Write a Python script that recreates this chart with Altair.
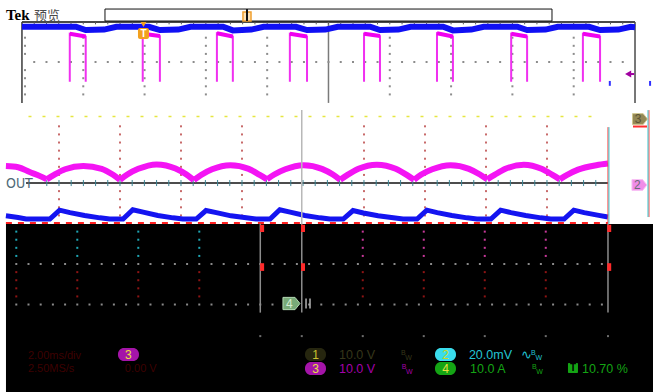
import itertools
import altair as alt
import pandas as pd

W, H = 653, 392

# Screen extent in graticule divisions of the zoom window:
# 61 px per horizontal division, 40.5 px per vertical division,
# OUT reference level at 0.
X_DOMAIN = [0.033, 10.738]
Y_DOMAIN = [-5.160, 4.519]

# The overview (record) window uses its own divisions; these place it on screen.
OV_X0, OV_KX, OV_Y0 = 0.393, 1.005, 2.988

# ---------------- zoom window traces ----------------
# CH3 (magenta): rectified ripple, one arch per half cycle
MAG_ARCH_X = [
    [0.13, 0.33, 0.52, 0.69, 0.80],
    [0.80, 0.92, 1.10, 1.40, 1.70, 1.88, 2.00],
    [2.00, 2.12, 2.30, 2.60, 2.91, 3.09, 3.21],
    [3.21, 3.33, 3.51, 3.81, 4.11, 4.29, 4.41],
    [4.41, 4.53, 4.71, 5.01, 5.31, 5.49, 5.61],
    [5.61, 5.73, 5.91, 6.21, 6.52, 6.70, 6.82],
    [6.82, 6.94, 7.12, 7.42, 7.72, 7.90, 8.02],
    [8.02, 8.14, 8.32, 8.62, 8.91, 9.09, 9.21],
    [9.21, 9.33, 9.51, 9.81, 10.00],
]
MAG_ARCH_Y = [
    [0.42, 0.39, 0.27, 0.17, 0.09],
    [0.09, 0.20, 0.34, 0.42, 0.35, 0.21, 0.08],
    [0.08, 0.21, 0.35, 0.46, 0.36, 0.21, 0.07],
    [0.07, 0.20, 0.34, 0.44, 0.35, 0.20, 0.09],
    [0.09, 0.21, 0.34, 0.44, 0.35, 0.21, 0.08],
    [0.08, 0.20, 0.35, 0.45, 0.35, 0.20, 0.08],
    [0.08, 0.21, 0.34, 0.44, 0.35, 0.21, 0.09],
    [0.09, 0.20, 0.35, 0.45, 0.35, 0.20, 0.09],
    [0.09, 0.20, 0.33, 0.44, 0.48],
]

# CH4 (blue): current ramps
BLUE_X = [0.13, 0.33, 0.46,
          0.85, 1.01, 1.18, 1.42, 1.67, 1.83,
          2.05, 2.21, 2.38, 2.62, 2.87, 3.03,
          3.25, 3.41, 3.58, 3.82, 4.07, 4.23,
          4.46, 4.62, 4.79, 5.03, 5.28, 5.44,
          5.66, 5.82, 5.99, 6.23, 6.48, 6.64,
          6.87, 7.03, 7.20, 7.44, 7.69, 7.85,
          8.08, 8.24, 8.41, 8.65, 8.90, 9.06,
          9.28, 9.44, 9.61, 9.85, 10.00]
BLUE_Y = [-0.81, -0.85, -0.89,
          -0.89, -0.67, -0.73, -0.80, -0.86, -0.89,
          -0.89, -0.66, -0.72, -0.80, -0.86, -0.89,
          -0.89, -0.68, -0.73, -0.81, -0.86, -0.89,
          -0.89, -0.66, -0.72, -0.80, -0.86, -0.89,
          -0.89, -0.68, -0.74, -0.81, -0.86, -0.89,
          -0.89, -0.67, -0.73, -0.80, -0.86, -0.89,
          -0.89, -0.67, -0.73, -0.80, -0.86, -0.89,
          -0.89, -0.67, -0.73, -0.80, -0.84]

# CH1 (yellow): flat level, barely visible
CH1_X = [0.50, 9.90]
CH1_Y = [1.64, 1.64]

# ---------------- overview window traces ----------------
OV_PULSE_RISE = [0.78, 1.97, 3.18, 4.37, 5.58, 6.77, 7.98, 9.15]
OV_PULSE_FALL = [1.04, 2.25, 3.44, 4.65, 5.84, 7.03, 8.24, 9.43]
OV_PULSE_TOP_LEAD = [0.70, 0.70, 0.71, 0.70, 0.70, 0.71, 0.70, 0.70]
OV_PULSE_TOP_TRAIL = [0.63, 0.64, 0.63, 0.63, 0.64, 0.63, 0.63, 0.63]
OV_PULSE_BASE = -0.49

OV_BLUE_X = [0.00, 0.88, 1.04, 1.34, 1.54, 2.07, 2.25, 2.55, 2.75,
             3.28, 3.44, 3.74, 3.94, 4.47, 4.65, 4.95, 5.15,
             5.68, 5.84, 6.14, 6.34, 6.87, 7.03, 7.33, 7.53,
             8.08, 8.24, 8.54, 8.74, 9.25, 9.43, 9.73, 9.93, 10.00]
OV_BLUE_Y = [0.87, 0.87, 0.79, 0.80, 0.87, 0.87, 0.79, 0.80, 0.87,
             0.87, 0.78, 0.80, 0.87, 0.87, 0.79, 0.80, 0.87,
             0.87, 0.79, 0.80, 0.87, 0.87, 0.78, 0.80, 0.87,
             0.87, 0.79, 0.80, 0.87, 0.87, 0.79, 0.80, 0.87, 0.86]

# ---------------- readouts ----------------
READOUT_TEXT = ["10.0 V", "20.0mV", "10.0 V", "10.0 A", "10.70 %", "∿"]
READOUT_X = [5.59, 7.72, 5.59, 7.74, 9.574, 8.57]
READOUT_Y = [-4.235, -4.235, -4.58, -4.58, -4.58, -4.235]
READOUT_COLOR = ["#36361a", "#22c4d4", "#a400aa", "#14a414", "#14a414", "#22c4d4"]

BW_X = [6.607, 8.74, 6.62, 8.754]
BW_Y = [-4.20, -4.20, -4.545, -4.545]
BW_COLOR = ["#36361a", "#22c4d4", "#a400aa", "#14a414"]

BADGE_LABEL = ["3", "1", "3", "2", "4"]
BADGE_X = [1.967, 5.033, 5.033, 7.164, 7.164]
BADGE_X2 = [2.311, 5.377, 5.377, 7.508, 7.508]
BADGE_Y = [-4.074, -4.074, -4.420, -4.074, -4.420]
BADGE_Y2 = [-4.395, -4.395, -4.741, -4.395, -4.741]
BADGE_FILL = ["#a414a8", "#26260f", "#a414a8", "#3adcec", "#14a414"]
BADGE_INK = ["#e8e040", "#c8c030", "#e8e040", "#c8d820", "#e8e040"]

DIM_TEXT = ["2.00ms/div", "2.50MS/s", "0.00 V"]
DIM_X = [0.49, 0.49, 2.08]
DIM_Y = [-4.28, -4.60, -4.60]

# ---------------- scales and helpers ----------------
xs = alt.Scale(domain=X_DOMAIN, nice=False, zero=False)
ys = alt.Scale(domain=Y_DOMAIN, nice=False, zero=False)


def X(f="x"):
    return alt.X(f"{f}:Q", scale=xs, axis=None)


def Y(f="y"):
    return alt.Y(f"{f}:Q", scale=ys, axis=None)


COLOR = alt.Color("c:N", scale=None)


def overview(chart, pairs=(("x", "ox"), ("y", "oy"))):
    calc = {}
    for out, src in pairs:
        if out.startswith("x"):
            calc[out] = f"{OV_X0} + {OV_KX} * datum.{src}"
        else:
            calc[out] = f"{OV_Y0} + datum.{src}"
    return chart.transform_calculate(**calc)


def rule_layer(rows, ov=False):
    df = pd.DataFrame(rows, columns=["x", "x2", "y", "y2", "c", "w"])
    if ov:
        df = df.rename(columns={"x": "ox", "x2": "ox2", "y": "oy", "y2": "oy2"})
    ch = alt.Chart(df).mark_rule(strokeCap="butt")
    if ov:
        ch = overview(ch, (("x", "ox"), ("x2", "ox2"), ("y", "oy"), ("y2", "oy2")))
    return ch.encode(x=X(), x2="x2:Q", y=Y(), y2="y2:Q", color=COLOR,
                     strokeWidth=alt.StrokeWidth("w:Q", scale=None))


def dot_layer(rows, size=4, ov=False):
    cols = ["ox", "oy", "c"] if ov else ["x", "y", "c"]
    ch = alt.Chart(pd.DataFrame(rows, columns=cols)).mark_square(size=size, opacity=1)
    if ov:
        ch = overview(ch)
    return ch.encode(x=X(), y=Y(), color=COLOR)


layers = []

# black lower part of the screen
layers.append(
    alt.Chart(pd.DataFrame({"x": [0.131], "x2": [X_DOMAIN[1]], "y": [-1.01], "y2": [Y_DOMAIN[0]]}))
    .mark_rect(color="#000000")
    .encode(x=X(), x2="x2:Q", y=Y(), y2="y2:Q")
)

# ---- graticule of the zoom window ----
zoom_cols = [1, 2, 3, 4, 6, 7, 8, 9]
zoom_minor = [1.4, 1.2, 1.0, 0.8, 0.6, 0.4, 0.2, -0.2, -0.4, -0.6, -0.8]
grid = [(c, v, "#c86a6a") for c, v in itertools.product(zoom_cols, zoom_minor)]

cols_left = [0.30, 1.30, 2.30, 3.30]
cols_right = [5.98, 6.98, 7.98, 8.98]
for v in [-1.2, -1.4, -1.6, -1.8]:
    grid += [(c, v, "#1fa6b4") for c in cols_left]
    grid += [(c, v, "#c8389a") for c in cols_right]
for v in [-2.2, -2.4, -2.6, -2.8]:
    grid += [(c, v, "#8e1414") for c in cols_left + cols_right]
for v in [-2.0, -3.0]:
    grid += [(0.30 + 0.2 * k, v, "#8a8a8a") for k in range(49)]
grid += [(c, -3.78, "#6e6e6e") for c in [4.30, 4.98] + cols_right + [10.0]]
layers.append(dot_layer(grid, size=4))

# OUT reference line with minor ticks
out_rules = [(0.46, 10.0, 0.0, 0.0, "#111111", 1.5)]
out_rules += [(0.8 + 0.2 * k, 0.8 + 0.2 * k, 0.075, -0.075, "#3c8494", 1) for k in range(46)]
layers.append(rule_layer(out_rules))

# ---- overview window frame and graticule ----
ov_frame = [
    (0, 10, 0.99, 0.99, "#4a4a4a", 2),
    (0, 0, 0.99, -1.01, "#3a3a3a", 1.5),
    (10, 10, 0.99, -1.01, "#4a4a4a", 1.5),
    (5, 5, 0.99, -1.01, "#7a7a7a", 1.5),
]
ov_frame += [(0.2 * k, 0.2 * k, 0.99, 0.93, "#5a5a5a", 1) for k in range(1, 50)]
layers.append(rule_layer(ov_frame, ov=True))

ov_grid = [(c, v, "#8c8c8c") for c, v in itertools.product(
    [0.05, 1, 2, 3, 4, 6, 7, 8, 9], [0.6, 0.4, 0.2, -0.2, -0.4, -0.6, -0.8])]
ov_grid += [(0.2 * k, 0.0, "#8c8c8c") for k in range(1, 50)]
layers.append(dot_layer(ov_grid, size=4, ov=True))

# ---- traces ----
layers.append(
    alt.Chart(pd.DataFrame({"x": CH1_X, "y": CH1_Y}))
    .mark_line(color="#e6e640", strokeWidth=1.5, strokeDash=[3, 11])
    .encode(x=X(), y=Y())
)

mag_rows = []
for i, (ax, ay) in enumerate(zip(MAG_ARCH_X, MAG_ARCH_Y)):
    mag_rows += [{"x": a, "y": b, "arch": i} for a, b in zip(ax, ay)]
layers.append(
    alt.Chart(pd.DataFrame(mag_rows))
    .mark_line(color="#f414f4", strokeWidth=6, interpolate="monotone")
    .encode(x=X(), y=Y(), detail="arch:N")
)

layers.append(
    alt.Chart(pd.DataFrame({"x": [0.13, 10.0], "y": [-0.985, -0.985]}))
    .mark_line(color="#ff2020", strokeWidth=2, strokeDash=[6, 6])
    .encode(x=X(), y=Y())
)

layers.append(
    alt.Chart(pd.DataFrame({"x": BLUE_X, "y": BLUE_Y}))
    .mark_line(color="#1414f0", strokeWidth=5)
    .encode(x=X(), y=Y())
)

# overview: blue and magenta pulses
layers.append(
    overview(alt.Chart(pd.DataFrame({"ox": OV_BLUE_X, "oy": OV_BLUE_Y})).mark_line(
        color="#1010f4", strokeWidth=6))
    .encode(x=X(), y=Y())
)
pulse_rows = []
for i, (r, f, a, b) in enumerate(zip(OV_PULSE_RISE, OV_PULSE_FALL,
                                     OV_PULSE_TOP_LEAD, OV_PULSE_TOP_TRAIL)):
    pts = [(r, OV_PULSE_BASE), (r, a), (f, b), (f, OV_PULSE_BASE)]
    pulse_rows += [{"ox": px, "oy": py, "p": i, "k": k} for k, (px, py) in enumerate(pts)]
pulse_df = pd.DataFrame(pulse_rows)
layers.append(
    overview(alt.Chart(pulse_df).mark_line(color="#f030f0", strokeWidth=2))
    .encode(x=X(), y=Y(), detail="p:N", order="k:Q")
)
top_df = pulse_df[pulse_df["k"].isin([1, 2])]
layers.append(
    overview(alt.Chart(top_df).mark_line(color="#f000f0", strokeWidth=4))
    .encode(x=X(), y=Y(), detail="p:N", order="k:Q")
)

# ---- cursors, edges and small indicators ----
cursor = [
    (4.30, 4.30, -1.0, -3.2, "#8c8c8c", 1.5),
    (4.98, 4.98, 1.80, -1.0, "#b8b8b8", 1.5),
    (4.98, 4.98, -1.0, -3.2, "#8c8c8c", 1.5),
    (10.0, 10.0, -1.0, -3.2, "#8c8c8c", 1.5),
    (10.0, 10.0, 1.38, -1.0, "#ff3c3c", 1),
    (10.016, 10.016, 1.38, -1.0, "#3cc8d0", 1),
    (10.672, 10.672, 1.80, -0.84, "#ff3c3c", 1),
    (10.656, 10.656, 1.80, -0.84, "#3cc8d0", 1),
    (5.05, 5.05, -2.85, -3.10, "#b4b4b4", 1.5),
    (5.115, 5.115, -2.85, -3.10, "#b4b4b4", 1.5),
    (10.41, 10.64, 1.395, 1.395, "#ff3030", 2),
    (10.36, 10.43, 2.691, 2.691, "#a000a0", 2),
    (10.03, 10.03, 2.52, 2.40, "#3030ff", 2),
    (10.69, 10.69, 2.52, 2.40, "#3030ff", 2),
]
for d in [4.33, 5.00, 10.02]:
    cursor += [(d, d, -1.03, -1.21, "#ff2a2a", 4), (d, d, -1.98, -2.17, "#ff2a2a", 4)]
layers.append(rule_layer(cursor))

# record bar with view marker
layers.append(
    alt.Chart(pd.DataFrame({"x": [1.754], "x2": [9.082], "y": [4.296], "y2": [4.0]}))
    .mark_rect(fill="white", stroke="#111111", strokeWidth=1)
    .encode(x=X(), x2="x2:Q", y=Y(), y2="y2:Q")
)
layers.append(
    alt.Chart(pd.DataFrame({"x": [4.016], "x2": [4.148], "y": [4.222], "y2": [4.0]}))
    .mark_rect(fill="#fde3b8", stroke="#f0a030", strokeWidth=1.5)
    .encode(x=X(), x2="x2:Q", y=Y(), y2="y2:Q")
)
layers.append(rule_layer([(4.082, 4.082, 4.296, 4.0, "#111111", 2)]))

# trigger position marker
layers.append(
    alt.Chart(pd.DataFrame({"x": [2.295], "x2": [2.475], "y": [3.827], "y2": [3.556]}))
    .mark_rect(fill="#f2a01e", cornerRadius=2)
    .encode(x=X(), x2="x2:Q", y=Y(), y2="y2:Q")
)
layers.append(
    alt.Chart(pd.DataFrame({"x": [2.385], "y": [3.915]}))
    .mark_point(shape="triangle-down", filled=True, size=35, color="#f2a01e", opacity=1)
    .encode(x=X(), y=Y())
)
layers.append(
    alt.Chart(pd.DataFrame({"x": [2.385], "y": [3.69], "t": ["T"]}))
    .mark_text(font="Liberation Sans", fontWeight="bold", fontSize=10, color="white")
    .encode(x=X(), y=Y(), text="t:N")
)

# CH3 offset arrow in the overview
layers.append(
    alt.Chart(pd.DataFrame({"x": [10.33], "y": [2.691]}))
    .mark_point(shape="triangle-left", filled=True, size=50, color="#a000a0", opacity=1)
    .encode(x=X(), y=Y())
)

# channel level badges
PENTA = "M-1,-0.72L0.42,-0.72L1,0L0.42,0.72L-1,0.72Z"
badges = pd.DataFrame({
    "x": [10.525, 10.516, 4.811],
    "y": [1.58, -0.049, -2.975],
    "fill": ["#938856", "#f08ce8", "#78aa78"],
    "stroke": ["#cfc68e", "#f8c0f4", "#b4dab4"],
    "s": [225, 225, 289],
    "t": ["3", "2", "4"],
    "ink": ["#5c5434", "#6c6c78", "#d4eed4"],
})
layers.append(
    alt.Chart(badges).mark_point(shape=PENTA, filled=True, opacity=1, strokeWidth=1)
    .encode(x=X(), y=Y(), fill=alt.Fill("fill:N", scale=None),
            stroke=alt.Stroke("stroke:N", scale=None), size=alt.Size("s:Q", scale=None))
)
layers.append(
    alt.Chart(badges).mark_text(font="Liberation Sans", fontSize=12, dx=-2)
    .encode(x=X(), y=Y(), text="t:N", color=alt.Color("ink:N", scale=None))
)

# ---- text ----
layers.append(
    alt.Chart(pd.DataFrame({"x": [0.131], "y": [4.025], "t": ["Tek"]}))
    .mark_text(font="Liberation Serif", fontWeight="bold", fontSize=15, align="left",
               baseline="alphabetic", color="#000000")
    .encode(x=X(), y=Y(), text="t:N")
)
layers.append(
    alt.Chart(pd.DataFrame({"x": [0.59], "y": [4.03], "t": ["预览"]}))
    .mark_text(font="Noto Sans CJK SC", fontSize=13, align="left",
               baseline="alphabetic", color="#4a4a4a")
    .encode(x=X(), y=Y(), text="t:N")
)
layers.append(
    alt.Chart(pd.DataFrame({"x": [0.131], "y": [-0.03], "t": ["OUT"]}))
    .mark_text(font="Liberation Sans Narrow, DejaVu Sans Condensed, Liberation Sans",
               fontSize=14, align="left", baseline="middle", color="#4f6a78")
    .encode(x=X(), y=Y(), text="t:N")
)

badge_df = pd.DataFrame({"x": BADGE_X, "x2": BADGE_X2, "y": BADGE_Y, "y2": BADGE_Y2,
                         "fill": BADGE_FILL, "t": BADGE_LABEL, "ink": BADGE_INK})
badge_df["cx"] = (badge_df["x"] + badge_df["x2"]) / 2
badge_df["cy"] = (badge_df["y"] + badge_df["y2"]) / 2
layers.append(
    alt.Chart(badge_df).mark_rect(cornerRadius=6)
    .encode(x=X(), x2="x2:Q", y=Y(), y2="y2:Q", color=alt.Color("fill:N", scale=None))
)
layers.append(
    alt.Chart(badge_df).mark_text(font="Liberation Sans", fontSize=12, baseline="middle")
    .encode(x=X("cx"), y=Y("cy"), text="t:N", color=alt.Color("ink:N", scale=None))
)
layers.append(
    alt.Chart(pd.DataFrame({"x": [9.344], "x2": [9.508], "y": [-4.444], "y2": [-4.691]}))
    .mark_rect(color="#14a414", cornerRadius=1)
    .encode(x=X(), x2="x2:Q", y=Y(), y2="y2:Q")
)
layers.append(
    alt.Chart(pd.DataFrame({"x": [9.426], "y": [-4.567], "t": ["T"]}))
    .mark_text(font="Liberation Sans", fontWeight="bold", fontSize=10, baseline="middle",
               color="#000000")
    .encode(x=X(), y=Y(), text="t:N")
)

layers.append(
    alt.Chart(pd.DataFrame({"x": READOUT_X, "y": READOUT_Y, "t": READOUT_TEXT,
                            "c": READOUT_COLOR}))
    .mark_text(font="Liberation Sans", fontSize=12.5, align="left", baseline="middle")
    .encode(x=X(), y=Y(), text="t:N", color=COLOR)
)
bw_rows = []
for x, y, c in zip(BW_X, BW_Y, BW_COLOR):
    bw_rows += [{"x": x, "y": y, "t": "B", "c": c}, {"x": x + 0.07, "y": y - 0.11, "t": "W", "c": c}]
layers.append(
    alt.Chart(pd.DataFrame(bw_rows))
    .mark_text(font="Liberation Sans", fontSize=7, align="left", baseline="middle")
    .encode(x=X(), y=Y(), text="t:N", color=COLOR)
)
layers.append(
    alt.Chart(pd.DataFrame({"x": DIM_X, "y": DIM_Y, "t": DIM_TEXT}))
    .mark_text(font="Liberation Sans", fontSize=11, align="left", baseline="middle",
               color="#3e0000")
    .encode(x=X(), y=Y(), text="t:N")
)

chart = (
    alt.layer(*layers)
    .properties(width=W, height=H, padding=0, background="white",
                autosize=alt.AutoSizeParams(type="none"))
    .configure_view(strokeWidth=0)
)

chart.save("out.html", embed_options={"renderer": "svg", "actions": False})
